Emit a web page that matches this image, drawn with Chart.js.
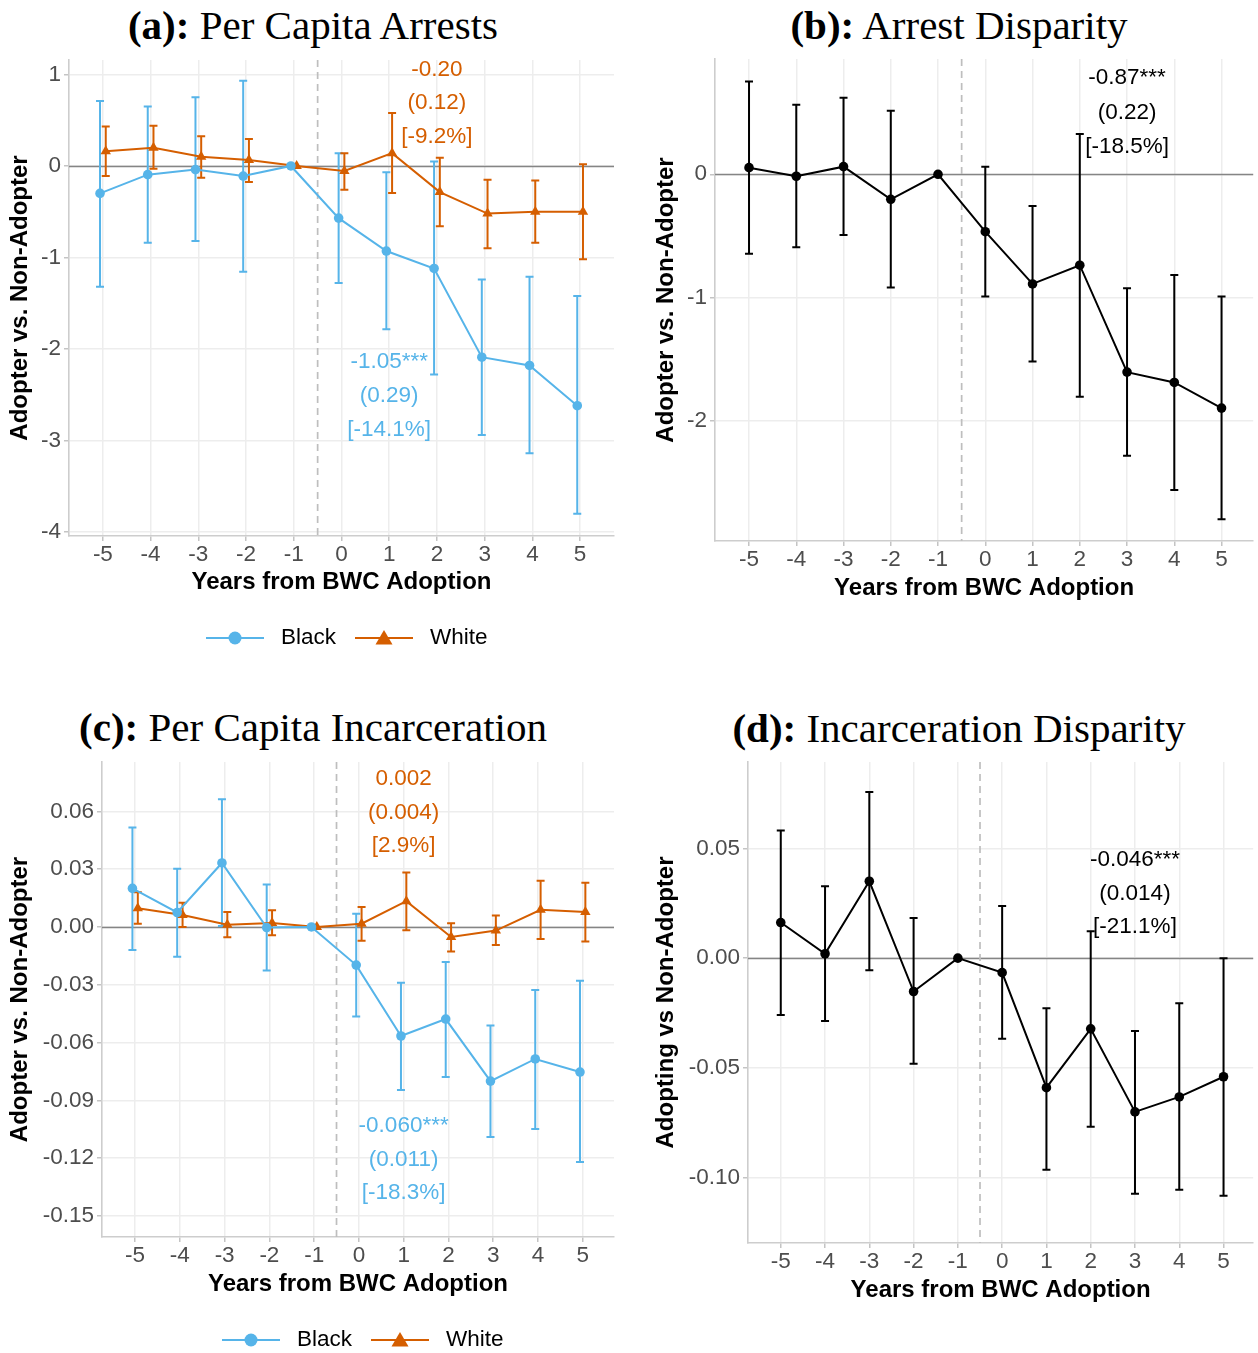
<!DOCTYPE html>
<html>
<head>
<meta charset="utf-8">
<title>BWC adoption event study</title>
<script src="https://cdn.jsdelivr.net/npm/chart.js@4.4.1/dist/chart.umd.min.js"></script>
<style>
  body { margin: 0; background: #fff; }
  #page { position: relative; width: 1258px; height: 1353px; overflow: hidden; background: #fff; }
  #page canvas { position: absolute; }
  .panel-title {
    position: absolute; width: 600px; text-align: center; white-space: nowrap;
    font-family: 'Liberation Serif', 'Times New Roman', serif; font-size: 41px; line-height: 50px; color: #000;
  }
</style>
</head>
<body>
<div id="page">
  <div class="panel-title" style="left:13px; top:0px;"><b>(a):</b> Per Capita Arrests</div>
  <div class="panel-title" style="left:659px; top:0px;"><b>(b):</b> Arrest Disparity</div>
  <div class="panel-title" style="left:13px; top:702px;"><b>(c):</b> Per Capita Incarceration</div>
  <div class="panel-title" style="left:659px; top:703px;"><b>(d):</b> Incarceration Disparity</div>
  <canvas id="chartA" width="629" height="676" style="left:0px; top:0px;"></canvas>
  <canvas id="chartB" width="629" height="676" style="left:629px; top:0px;"></canvas>
  <canvas id="chartC" width="629" height="677" style="left:0px; top:676px;"></canvas>
  <canvas id="chartD" width="629" height="677" style="left:629px; top:676px;"></canvas>
</div>
<script>
// --- DATA ---
const years = [-5, -4, -3, -2, -1, 0, 1, 2, 3, 4, 5];
const yearLabels = ['-5', '-4', '-3', '-2', '-1', '0', '1', '2', '3', '4', '5'];
const groups = ['Black', 'White'];

// (a) per capita arrests, adopter vs. non-adopter (year -1 is the reference)
const arrestsBlack     = [-0.30, -0.095, -0.04, -0.11, 0, -0.57, -0.93, -1.12, -2.09, -2.18, -2.62];
const arrestsBlackLow  = [-1.32, -0.84, -0.82, -1.155, null, -1.28, -1.785, -2.28, -2.94, -3.14, -3.80];
const arrestsBlackHigh = [0.71, 0.65, 0.75, 0.93, null, 0.14, -0.07, 0.05, -1.24, -1.21, -1.42];
const arrestsWhite     = [0.16, 0.20, 0.10, 0.065, 0, -0.055, 0.14, -0.285, -0.52, -0.50, -0.50];
const arrestsWhiteLow  = [-0.11, -0.03, -0.13, -0.175, null, -0.26, -0.295, -0.66, -0.90, -0.84, -1.02];
const arrestsWhiteHigh = [0.43, 0.44, 0.325, 0.295, null, 0.14, 0.58, 0.09, -0.15, -0.16, 0.02];
const arrestsBlackNote = ['-1.05***', '(0.29)', '[-14.1%]'];
const arrestsWhiteNote = ['-0.20', '(0.12)', '[-9.2%]'];
const arrestsTicks      = [1, 0, -1, -2, -3, -4];
const arrestsTickLabels = ['1', '0', '-1', '-2', '-3', '-4'];

// (b) arrest disparity
const arrestGap     = [0.054, -0.016, 0.062, -0.203, 0, -0.466, -0.89, -0.738, -1.606, -1.69, -1.898];
const arrestGapLow  = [-0.646, -0.592, -0.492, -0.92, null, -0.993, -1.52, -1.806, -2.285, -2.563, -2.80];
const arrestGapHigh = [0.754, 0.564, 0.621, 0.516, null, 0.062, -0.257, 0.327, -0.925, -0.817, -0.992];
const arrestGapNote = ['-0.87***', '(0.22)', '[-18.5%]'];
const arrestGapTicks      = [0, -1, -2];
const arrestGapTickLabels = ['0', '-1', '-2'];

// (c) per capita incarceration
const incBlack     = [0.0200, 0.0075, 0.0332, -0.0003, 0, -0.0198, -0.0566, -0.0478, -0.0800, -0.0685, -0.0753];
const incBlackLow  = [-0.0120, -0.0155, 0.0005, -0.0226, null, -0.0465, -0.0846, -0.0779, -0.1090, -0.1048, -0.1220];
const incBlackHigh = [0.0516, 0.0302, 0.0663, 0.0220, null, 0.0068, -0.0290, -0.0182, -0.0512, -0.0327, -0.0279];
const incWhite     = [0.0097, 0.0062, 0.0012, 0.0021, 0, 0.0017, 0.0134, -0.0052, -0.0019, 0.0089, 0.0078];
const incWhiteLow  = [0.0017, 0.0000, -0.0054, -0.0043, null, -0.0071, -0.0017, -0.0127, -0.0094, -0.0062, -0.0075];
const incWhiteHigh = [0.0180, 0.0125, 0.0077, 0.0087, null, 0.0104, 0.0283, 0.0019, 0.0059, 0.0240, 0.0229];
const incBlackNote = ['-0.060***', '(0.011)', '[-18.3%]'];
const incWhiteNote = ['0.002', '(0.004)', '[2.9%]'];
const incTicks      = [0.06, 0.03, 0, -0.03, -0.06, -0.09, -0.12, -0.15];
const incTickLabels = ['0.06', '0.03', '0.00', '-0.03', '-0.06', '-0.09', '-0.12', '-0.15'];

// (d) incarceration disparity
const incGap     = [0.0162, 0.0020, 0.0350, -0.0152, 0, -0.0066, -0.0590, -0.0322, -0.0700, -0.0632, -0.0540];
const incGapLow  = [-0.0259, -0.0286, -0.0055, -0.0481, null, -0.0367, -0.0963, -0.0768, -0.1073, -0.1055, -0.1082];
const incGapHigh = [0.0581, 0.0327, 0.0756, 0.0183, null, 0.0237, -0.0228, 0.0122, -0.0332, -0.0205, 0.0000];
const incGapNote = ['-0.046***', '(0.014)', '[-21.1%]'];
const incGapTicks      = [0.05, 0, -0.05, -0.10];
const incGapTickLabels = ['0.05', '0.00', '-0.05', '-0.10'];

// --- STYLE ---
const FONT = "'Liberation Sans', Arial, Helvetica, sans-serif";
const BLUE = '#56B4E9';
const ORANGE = '#D55E00';
const TEXT_SIZE = 22.5;      // tick labels, notes and key
const TITLE_SIZE = 24;       // axis titles
const DODGE = 0.06;          // groups are nudged apart so the bars don't overlap
const ADOPTION_LINE = -0.5;  // dashed marker between the last pre year and adoption

Chart.defaults.font.family = FONT;

function points(values, offset) {
    return years.map((yr, i) => ({ x: yr + offset, y: values[i] }));
}

function series(label, values, low, high, color, shape, offset) {
    return {
        label: label,
        data: points(values, offset),
        errLow: low,
        errHigh: high,
        borderColor: color,
        backgroundColor: color,
        pointBackgroundColor: color,
        pointBorderColor: color,
        pointBorderWidth: 0,
        pointStyle: shape,
        pointRadius: shape === 'triangle' ? 6 : 4.8,
        borderWidth: 2,
        tension: 0
    };
}

// Reference lines, error bars, the estimate notes and the key
function panelExtras(p) {
    return {
        id: 'panelExtras',
        beforeDatasetsDraw(chart) {
            const { ctx, chartArea: area, scales: { x, y } } = chart;
            ctx.save();

            // 1. zero line
            const y0 = Math.round(y.getPixelForValue(0)) + 0.5;
            ctx.strokeStyle = '#858585';
            ctx.lineWidth = 1.7;
            ctx.beginPath();
            ctx.moveTo(area.left, y0);
            ctx.lineTo(area.right, y0);
            ctx.stroke();

            // 2. adoption marker
            const xa = x.getPixelForValue(ADOPTION_LINE);
            ctx.strokeStyle = '#BEBEBE';
            ctx.lineWidth = 1.7;
            ctx.setLineDash([7, 5]);
            ctx.beginPath();
            ctx.moveTo(xa, area.top);
            ctx.lineTo(xa, area.bottom);
            ctx.stroke();
            ctx.setLineDash([]);

            // 3. error bars
            chart.data.datasets.forEach(ds => {
                ctx.strokeStyle = ds.borderColor;
                ctx.lineWidth = 2;
                ds.data.forEach((pt, i) => {
                    const lo = ds.errLow[i];
                    const hi = ds.errHigh[i];
                    if (lo == null || hi == null) return;
                    const px = x.getPixelForValue(pt.x);
                    const yl = y.getPixelForValue(lo);
                    const yh = y.getPixelForValue(hi);
                    ctx.beginPath();
                    ctx.moveTo(px, yh); ctx.lineTo(px, yl);
                    ctx.moveTo(px - 4, yh); ctx.lineTo(px + 4, yh);
                    ctx.moveTo(px - 4, yl); ctx.lineTo(px + 4, yl);
                    ctx.stroke();
                });
            });
            ctx.restore();
        },
        afterDatasetsDraw(chart) {
            const { ctx, scales: { x, y } } = chart;
            ctx.save();
            ctx.font = TEXT_SIZE + 'px ' + FONT;
            ctx.textAlign = 'center';
            ctx.textBaseline = 'middle';
            (p.notes || []).forEach(note => {
                ctx.fillStyle = note.color;
                note.lines.forEach((txt, i) => {
                    ctx.fillText(txt, x.getPixelForValue(note.x), y.getPixelForValue(note.y[i]));
                });
            });
            ctx.restore();
        },
        afterDraw(chart) {
            if (!p.key) return;
            const { ctx } = chart;
            const k = p.key;
            ctx.save();
            ctx.font = TEXT_SIZE + 'px ' + FONT;
            ctx.textBaseline = 'middle';
            ctx.textAlign = 'left';
            const items = [
                { label: groups[0], color: BLUE, shape: 'circle', x0: k.left },
                { label: groups[1], color: ORANGE, shape: 'triangle', x0: k.left + 149 }
            ];
            items.forEach(it => {
                const cx = it.x0 + 29;
                ctx.strokeStyle = it.color;
                ctx.fillStyle = it.color;
                ctx.lineWidth = 2;
                ctx.beginPath();
                ctx.moveTo(it.x0, k.y);
                ctx.lineTo(it.x0 + 58, k.y);
                ctx.stroke();
                ctx.beginPath();
                if (it.shape === 'circle') {
                    ctx.arc(cx, k.y, 6.5, 0, Math.PI * 2);
                } else {
                    ctx.moveTo(cx, k.y - 8);
                    ctx.lineTo(cx + 8.5, k.y + 6.5);
                    ctx.lineTo(cx - 8.5, k.y + 6.5);
                    ctx.closePath();
                }
                ctx.fill();
                ctx.fillStyle = '#000';
                ctx.fillText(it.label, it.x0 + 75, k.y);
            });
            ctx.restore();
        }
    };
}

function buildPanel(canvasId, p) {
    const ctx = document.getElementById(canvasId).getContext('2d');
    return new Chart(ctx, {
        type: 'line',
        data: { datasets: p.datasets },
        options: {
            responsive: false,
            animation: false,
            devicePixelRatio: 1,
            layout: { padding: p.padding },
            scales: {
                x: {
                    type: 'linear',
                    min: p.xMin,
                    max: p.xMax,
                    afterBuildTicks: s => { s.ticks = years.map(v => ({ value: v })); },
                    afterFit: s => { s.height = 74; },
                    grid: { color: '#EDEDED', lineWidth: 1.5, tickColor: '#C4C4C4', tickLength: 5 },
                    border: { display: true, color: '#CDCDCD', width: 1.6 },
                    ticks: {
                        color: '#4D4D4D',
                        font: { size: TEXT_SIZE },
                        padding: 0,
                        maxRotation: 0,
                        autoSkip: false,
                        callback: v => yearLabels[years.indexOf(v)]
                    },
                    title: {
                        display: true,
                        text: 'Years from BWC Adoption',
                        color: '#000',
                        font: { size: TITLE_SIZE, weight: 'bold' },
                        padding: { top: 0, bottom: p.xTitlePad }
                    }
                },
                y: {
                    type: 'linear',
                    min: p.yMin,
                    max: p.yMax,
                    afterBuildTicks: s => { s.ticks = p.yTicks.map(v => ({ value: v })); },
                    afterFit: s => { s.width = p.yWidth; },
                    grid: { color: '#EDEDED', lineWidth: 1.5, tickColor: '#C4C4C4', tickLength: 5 },
                    border: { display: true, color: '#CDCDCD', width: 1.6 },
                    ticks: {
                        color: '#4D4D4D',
                        font: { size: TEXT_SIZE },
                        padding: 3,
                        autoSkip: false,
                        callback: v => p.yTickLabels[p.yTicks.indexOf(v)]
                    },
                    title: {
                        display: true,
                        text: p.yTitle,
                        color: '#000',
                        font: { size: TITLE_SIZE, weight: 'bold' },
                        padding: { top: p.yTitlePad, bottom: 0 }
                    }
                }
            },
            plugins: {
                legend: { display: false },
                tooltip: { enabled: false }
            }
        },
        plugins: [panelExtras(p)]
    });
}

document.addEventListener('DOMContentLoaded', () => {
    // (a) Per Capita Arrests
    buildPanel('chartA', {
        datasets: [
            series(groups[0], arrestsBlack, arrestsBlackLow, arrestsBlackHigh, BLUE, 'circle', -DODGE),
            series(groups[1], arrestsWhite, arrestsWhiteLow, arrestsWhiteHigh, ORANGE, 'triangle', DODGE)
        ],
        padding: { top: 60, right: 15, bottom: 66, left: 0 },
        xMin: -5.71, xMax: 5.71,
        yMin: -4.044, yMax: 1.158,
        yTicks: arrestsTicks, yTickLabels: arrestsTickLabels,
        yWidth: 69, yTitlePad: 6, xTitlePad: 13,
        yTitle: 'Adopter vs. Non-Adopter',
        notes: [
            { x: 2, y: [1.049, 0.689, 0.317], lines: arrestsWhiteNote, color: ORANGE },
            { x: 1, y: [-2.142, -2.514, -2.885], lines: arrestsBlackNote, color: BLUE }
        ],
        key: { left: 206, y: 638 }
    });

    // (b) Arrest Disparity
    buildPanel('chartB', {
        datasets: [
            series('Disparity', arrestGap, arrestGapLow, arrestGapHigh, '#000000', 'circle', 0)
        ],
        padding: { top: 59, right: 0, bottom: 61, left: 0 },
        xMin: -5.72, xMax: 5.67,
        yMin: -2.977, yMax: 0.936,
        yTicks: arrestGapTicks, yTickLabels: arrestGapTickLabels,
        yWidth: 86, yTitlePad: 23, xTitlePad: 12,
        yTitle: 'Adopter vs. Non-Adopter',
        notes: [
            { x: 3, y: [0.781, 0.497, 0.221], lines: arrestGapNote, color: '#000000' }
        ]
    });

    // (c) Per Capita Incarceration
    buildPanel('chartC', {
        datasets: [
            series(groups[0], incBlack, incBlackLow, incBlackHigh, BLUE, 'circle', -DODGE),
            series(groups[1], incWhite, incWhiteLow, incWhiteHigh, ORANGE, 'triangle', DODGE)
        ],
        padding: { top: 86, right: 15, bottom: 42, left: 0 },
        xMin: -5.74, xMax: 5.70,
        yMin: -0.1609, yMax: 0.0856,
        yTicks: incTicks, yTickLabels: incTickLabels,
        yWidth: 102, yTitlePad: 6, xTitlePad: 12,
        yTitle: 'Adopter vs. Non-Adopter',
        notes: [
            { x: 1, y: [0.0768, 0.0592, 0.0420], lines: incWhiteNote, color: ORANGE },
            { x: 1, y: [-0.1033, -0.1209, -0.1381], lines: incBlackNote, color: BLUE }
        ],
        key: { left: 222, y: 664 }
    });

    // (d) Incarceration Disparity
    buildPanel('chartD', {
        datasets: [
            series('Disparity', incGap, incGapLow, incGapHigh, '#000000', 'circle', 0)
        ],
        padding: { top: 86, right: 0, bottom: 36, left: 0 },
        xMin: -5.74, xMax: 5.67,
        yMin: -0.1297, yMax: 0.0893,
        yTicks: incGapTicks, yTickLabels: incGapTickLabels,
        yWidth: 119, yTitlePad: 23, xTitlePad: 12,
        yTitle: 'Adopting vs Non-Adopter',
        notes: [
            { x: 3, y: [0.0448, 0.0293, 0.0143], lines: incGapNote, color: '#000000' }
        ]
    });
});
</script>
</body>
</html>
